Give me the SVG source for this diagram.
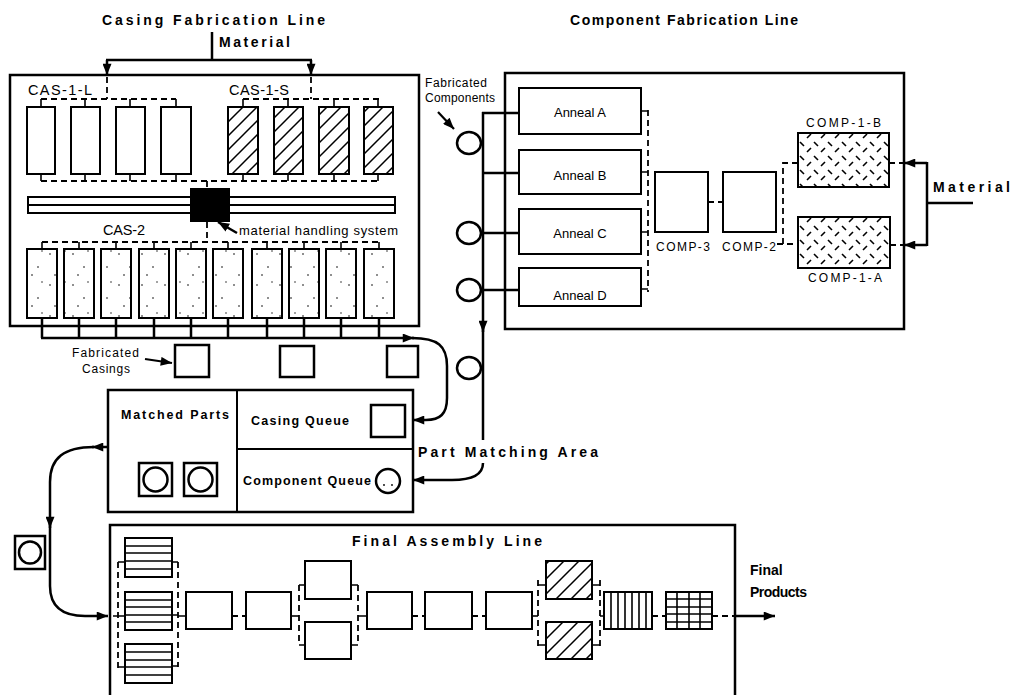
<svg xmlns="http://www.w3.org/2000/svg" width="1013" height="695" viewBox="0 0 1013 695">
<defs>
<style>
text{font-family:"Liberation Sans",Arial,sans-serif;fill:#000}
.t{font-weight:bold;font-size:14px}
.b{font-weight:bold;font-size:12.5px}
.n{font-size:13px}
.c{font-size:14.5px}
.s{font-size:12px}
.box{fill:#fff;stroke:#000;stroke-width:2.5}
.bx{fill:#fff;stroke:#000;stroke-width:2}
.hb{fill:url(#hatch)}
.hb2{fill:url(#hatch2)}
.wv{fill:url(#weave)}
.st{fill:url(#stip)}
.ln{fill:none;stroke:#000;stroke-width:2.5}
.ln2{fill:none;stroke:#000;stroke-width:1.6}
.ds{fill:none;stroke:#000;stroke-width:1.8;stroke-dasharray:6 4}
</style>
<marker id="arr" viewBox="0 0 10 8" refX="10" refY="4" markerWidth="12" markerHeight="9" markerUnits="userSpaceOnUse" orient="auto">
<path d="M0,0 L10,4 L0,8 z" fill="#000"/>
</marker>
<pattern id="hatch" patternUnits="userSpaceOnUse" width="14" height="14">
<rect width="14" height="14" fill="#fff"/>
<path d="M-2,2 L2,-2 M0,14 L14,0 M12,16 L16,12" stroke="#000" stroke-width="1.5"/>
</pattern>
<pattern id="hatch2" patternUnits="userSpaceOnUse" width="15" height="15">
<rect width="15" height="15" fill="#fff"/>
<path d="M-2,2 L2,-2 M0,15 L15,0 M13,17 L17,13" stroke="#000" stroke-width="1.5"/>
</pattern>
<pattern id="weave" patternUnits="userSpaceOnUse" width="14" height="14">
<rect width="14" height="14" fill="#fff"/>
<path d="M2,2 L6,6 M9,12 L13,8" stroke="#000" stroke-width="1.6"/>
</pattern>
<pattern id="stip" patternUnits="userSpaceOnUse" width="23" height="31">
<rect width="23" height="31" fill="#fff"/>
<circle cx="4" cy="6" r="0.8"/><circle cx="15" cy="19" r="0.8"/><circle cx="9" cy="27" r="0.8"/><circle cx="19" cy="3" r="0.7"/>
</pattern>
</defs>
<rect width="1013" height="695" fill="#fff"/>

<!-- Titles -->
<text class="t" x="102" y="25" textLength="223" lengthAdjust="spacing">Casing Fabrication Line</text>
<text class="t" x="570" y="25" textLength="228" lengthAdjust="spacing">Component Fabrication Line</text>

<!-- Casing Fabrication Line -->
<g id="casing-line">
<rect class="box" x="10" y="75" width="409" height="251" stroke-width="3"/>
<text class="t" x="219" y="47" textLength="71" lengthAdjust="spacing">Material</text>
<text class="c" x="28" y="95" textLength="64" lengthAdjust="spacing">CAS-1-L</text>
<text class="c" x="229" y="95" textLength="60" lengthAdjust="spacing">CAS-1-S</text>
<g id="cas-1-l">
<rect class="bx" x="27" y="107" width="28" height="67"/>
<rect class="bx" x="71" y="107" width="29" height="67"/>
<rect class="bx" x="116" y="107" width="29" height="67"/>
<rect class="bx" x="161" y="107" width="30" height="67"/>
</g>
<g id="cas-1-s">
<rect class="bx hb" x="228" y="107" width="30" height="67"/>
<rect class="bx hb" x="274" y="107" width="29" height="67"/>
<rect class="bx hb" x="319" y="107" width="30" height="67"/>
<rect class="bx hb" x="364" y="107" width="29" height="67"/>
</g>
<g id="rail">
<rect x="28" y="197" width="367" height="16" fill="#fff" stroke="#000" stroke-width="2"/>
<line x1="28" y1="205" x2="395" y2="205" stroke="#000" stroke-width="2"/>
<rect x="190" y="188" width="40" height="34" fill="#000"/>
</g>
<text class="c" x="103" y="235" textLength="42" lengthAdjust="spacing">CAS-2</text>
<text class="n" x="239" y="235" textLength="159" lengthAdjust="spacing">material handling system</text>
<g id="cas-2">
<rect class="bx st" x="27" y="249" width="30" height="69"/>
<rect class="bx st" x="64" y="249" width="30" height="69"/>
<rect class="bx st" x="101" y="249" width="30" height="69"/>
<rect class="bx st" x="139" y="249" width="30" height="69"/>
<rect class="bx st" x="176" y="249" width="30" height="69"/>
<rect class="bx st" x="213" y="249" width="30" height="69"/>
<rect class="bx st" x="252" y="249" width="30" height="69"/>
<rect class="bx st" x="289" y="249" width="30" height="69"/>
<rect class="bx st" x="326" y="249" width="30" height="69"/>
<rect class="bx st" x="364" y="249" width="30" height="69"/>
</g>
</g>

<!-- Component Fabrication Line -->
<g id="component-line">
<rect class="box" x="505" y="73" width="399" height="256"/>
<g id="anneal-a"><rect class="bx" x="519" y="88" width="122" height="46"/><text class="n" x="580" y="117" text-anchor="middle">Anneal A</text></g>
<g id="anneal-b"><rect class="bx" x="519" y="150" width="122" height="44"/><text class="n" x="580" y="180" text-anchor="middle">Anneal B</text></g>
<g id="anneal-c"><rect class="bx" x="519" y="209" width="122" height="45"/><text class="n" x="580" y="238" text-anchor="middle">Anneal C</text></g>
<g id="anneal-d"><rect class="bx" x="519" y="268" width="122" height="38"/><text class="n" x="580" y="300" text-anchor="middle">Anneal D</text></g>
<g id="comp-3"><rect class="bx" x="655" y="172" width="53" height="60"/><text class="s" x="656" y="251" textLength="54" lengthAdjust="spacing">COMP-3</text></g>
<g id="comp-2"><rect class="bx" x="723" y="172" width="53" height="60"/><text class="s" x="722" y="251" textLength="54" lengthAdjust="spacing">COMP-2</text></g>
<g id="comp-1-b"><rect class="bx wv" x="798" y="133" width="91" height="54"/><text class="s" x="806" y="127" textLength="75" lengthAdjust="spacing">COMP-1-B</text></g>
<g id="comp-1-a"><rect class="bx wv" x="798" y="217" width="92" height="51"/><text class="s" x="808" y="282" textLength="74" lengthAdjust="spacing">COMP-1-A</text></g>
<text class="t" x="933" y="192" textLength="77" lengthAdjust="spacing">Material</text>
</g>

<!-- Fabricated components -->
<g id="fab-components">
<text class="s" x="425" y="87" textLength="62" lengthAdjust="spacing">Fabricated</text>
<text class="s" x="425" y="102" textLength="70" lengthAdjust="spacing">Components</text>
<ellipse cx="469" cy="143" rx="12" ry="11" fill="#fff" stroke="#000" stroke-width="2.5"/>
<ellipse cx="469" cy="233" rx="12" ry="11" fill="#fff" stroke="#000" stroke-width="2.5"/>
<ellipse cx="469" cy="290" rx="12" ry="11" fill="#fff" stroke="#000" stroke-width="2.5"/>
<ellipse cx="469" cy="368" rx="12" ry="11" fill="#fff" stroke="#000" stroke-width="2.5"/>
</g>

<!-- Fabricated casings -->
<g id="fab-casings">
<text class="s" x="72" y="357" textLength="67" lengthAdjust="spacing">Fabricated</text>
<text class="s" x="82" y="373" textLength="48" lengthAdjust="spacing">Casings</text>
<rect class="box" x="175" y="345" width="34" height="32"/>
<rect class="box" x="280" y="346" width="34" height="31"/>
<rect class="box" x="387" y="346" width="31" height="31"/>
</g>

<!-- Part Matching Area -->
<g id="part-matching">
<rect class="box" x="108" y="390" width="305" height="122"/>
<line x1="237" y1="390" x2="237" y2="512" stroke="#000" stroke-width="2"/>
<line x1="237" y1="449" x2="413" y2="449" stroke="#000" stroke-width="2"/>
<text class="b" x="121" y="419" textLength="108" lengthAdjust="spacing">Matched Parts</text>
<text class="b" x="251" y="425" textLength="98" lengthAdjust="spacing">Casing Queue</text>
<text class="b" x="243" y="485" textLength="128" lengthAdjust="spacing">Component Queue</text>
<rect class="box" x="371" y="405" width="34" height="32"/>
<circle cx="388" cy="481" r="12" fill="#fff" stroke="#000" stroke-width="2.5"/>
<circle cx="384" cy="485" r="0.9"/><circle cx="392" cy="485" r="0.9"/>
<rect class="box" x="139" y="463" width="33" height="33"/>
<circle cx="155.5" cy="479.5" r="12" fill="none" stroke="#000" stroke-width="2.5"/>
<rect class="box" x="184" y="463" width="33" height="33"/>
<circle cx="200.5" cy="479.5" r="12" fill="none" stroke="#000" stroke-width="2.5"/>
<text class="t" x="418" y="457" textLength="180" lengthAdjust="spacing">Part Matching Area</text>
</g>

<!-- Matched part in transit -->
<g id="matched-part">
<rect class="box" x="15" y="536" width="30" height="33"/>
<circle cx="30" cy="552.5" r="11" fill="none" stroke="#000" stroke-width="2.5"/>
</g>

<!-- Final Assembly Line -->
<g id="final-assembly">
<path class="ln" d="M110,700 L110,525 L735,525 L735,700"/>
<text class="t" x="352" y="546" textLength="190" lengthAdjust="spacing">Final Assembly Line</text>
<g id="fa-stack">
<rect class="bx" x="125" y="538" width="47" height="39"/>
<path class="ln2" d="M125,546 H172 M125,553 H172 M125,561 H172 M125,569 H172"/>
<rect class="bx" x="125" y="592" width="47" height="38"/>
<path class="ln2" d="M125,600 H172 M125,607 H172 M125,615 H172 M125,622 H172"/>
<rect class="bx" x="125" y="644" width="47" height="39"/>
<path class="ln2" d="M125,652 H172 M125,660 H172 M125,667 H172 M125,675 H172"/>
</g>
<rect class="bx" x="186" y="592" width="46" height="37"/>
<rect class="bx" x="246" y="592" width="45" height="37"/>
<rect class="bx" x="305" y="561" width="46" height="38"/>
<rect class="bx" x="305" y="622" width="46" height="37"/>
<rect class="bx" x="367" y="592" width="45" height="37"/>
<rect class="bx" x="425" y="592" width="47" height="37"/>
<rect class="bx" x="486" y="592" width="46" height="37"/>
<rect class="bx hb2" x="546" y="561" width="46" height="38"/>
<rect class="bx hb2" x="546" y="622" width="46" height="37"/>
<g id="fa-striped">
<rect class="bx" x="604" y="592" width="48" height="37"/>
<path class="ln2" d="M611,592 V629 M618,592 V629 M625,592 V629 M632,592 V629 M639,592 V629 M646,592 V629" stroke-width="2"/>
</g>
<g id="fa-grid">
<rect class="bx" x="666" y="592" width="46" height="37"/>
<path class="ln2" d="M677,592 V629 M689,592 V629 M700,592 V629 M666,599 H712 M666,607 H712 M666,614 H712 M666,622 H712"/>
</g>
<text class="t" x="750" y="575">Final</text>
<text class="t" x="750" y="597" textLength="57" lengthAdjust="spacing">Products</text>
</g>

<!-- Connectors -->
<g id="connectors">
<line class="ln" x1="212" y1="32" x2="212" y2="60"/>
<line class="ln" x1="106" y1="60" x2="312" y2="60"/>
<line class="ln" x1="107" y1="60" x2="107" y2="75" marker-end="url(#arr)"/>
<line class="ln" x1="311" y1="60" x2="311" y2="75" marker-end="url(#arr)"/>
<path class="ds" d="M107,77 V99 M41,99 H176 M311,77 V99 M243,99 H379"/>
<path class="ln2" d="M41,99 V107 M85,99 V107 M130,99 V107 M176,99 V107 M243,99 V107 M288,99 V107 M334,99 V107 M378,99 V107"/>
<path class="ln2" d="M41,174 V181 M85,174 V181 M130,174 V181 M176,174 V181 M243,174 V181 M288,174 V181 M334,174 V181 M378,174 V181"/>
<path class="ds" d="M41,181 H379 M207,181 V188"/>
<path class="ds" d="M207,222 V242 M42,242 H379"/>
<path class="ln2" d="M42,242 V249 M79,242 V249 M116,242 V249 M154,242 V249 M191,242 V249 M228,242 V249 M267,242 V249 M304,242 V249 M341,242 V249 M379,242 V249"/>
<line x1="237" y1="233" x2="218" y2="222" stroke="#000" stroke-width="2.5" marker-end="url(#arr)"/>
<path class="ln" d="M42,318 V338 M79,318 V338 M116,318 V338 M154,318 V338 M191,318 V338 M228,318 V338 M267,318 V338 M304,318 V338 M341,318 V338 M379,318 V338"/>
<line class="ln" x1="41" y1="338" x2="414" y2="338" marker-end="url(#arr)"/>
<path class="ln" d="M412,338 C438,338 447,346 447,366 L447,398 C447,414 440,420 426,420 L413,420" marker-end="url(#arr)"/>
<line x1="145" y1="359" x2="172" y2="363" stroke="#000" stroke-width="2.2" marker-end="url(#arr)"/>
<path class="ds" d="M648,110 V292"/>
<path class="ln2" d="M641,111 H648 M641,172 H648 M641,232 H648 M641,289 H648"/>
<path class="ds" d="M708,202 H723"/>
<path class="ds" d="M798,163 H783 V244 H798 M783,244 H777"/>
<path class="ds" d="M889,163 H904 M890,245 H904"/>
<line class="ln" x1="973" y1="203" x2="927" y2="203"/>
<line class="ln" x1="927" y1="162" x2="927" y2="246"/>
<line class="ln" x1="927" y1="163" x2="904" y2="163" marker-end="url(#arr)"/>
<line class="ln" x1="927" y1="245" x2="904" y2="245" marker-end="url(#arr)"/>
<line class="ln" x1="483" y1="112" x2="483" y2="332" marker-end="url(#arr)"/>
<line class="ln" x1="483" y1="325" x2="483" y2="440"/>
<path class="ln" d="M482,113 H519 M483,173 H519 M483,233 H519 M483,290 H519"/>
<line x1="438" y1="112" x2="454" y2="129" stroke="#000" stroke-width="2.2" marker-end="url(#arr)"/>
<path class="ln" d="M483,463 C483,475 472,480 452,480 L413,480" marker-end="url(#arr)"/>
<path class="ln" d="M108,447 L92,447" marker-end="url(#arr)"/>
<path class="ln" d="M94,447 C64,447 50,458 50,482 L50,528" marker-end="url(#arr)"/>
<path class="ln" d="M50,522 L50,586 C50,606 62,616 85,616 L108,616" marker-end="url(#arr)"/>
<path class="ds" d="M118,562 V668"/>
<path class="ln2" d="M118,562 H125 M113,616 H125 M118,667 H125"/>
<path class="ds" d="M178,562 V667"/>
<path class="ln2" d="M172,562 H178 M172,615 H178 M172,666 H178 M178,616 H186"/>
<path class="ds" d="M232,616 H246"/>
<path class="ln2" d="M291,616 H299"/>
<path class="ds" d="M299,585 V645"/>
<path class="ln2" d="M299,585 H305 M299,645 H305 M351,585 H358 M351,645 H358 M358,616 H367"/>
<path class="ds" d="M358,585 V645"/>
<path class="ds" d="M412,616 H425 M472,616 H486"/>
<path class="ln2" d="M532,616 H538"/>
<path class="ds" d="M538,580 V650"/>
<path class="ln2" d="M538,585 H546 M538,645 H546 M592,585 H600 M592,645 H600 M600,616 H604"/>
<path class="ds" d="M600,580 V650"/>
<path class="ds" d="M652,616 H666 M712,616 H736"/>
<line class="ln" x1="734" y1="616" x2="775" y2="616" stroke-width="2" marker-end="url(#arr)"/>
</g>
</svg>
